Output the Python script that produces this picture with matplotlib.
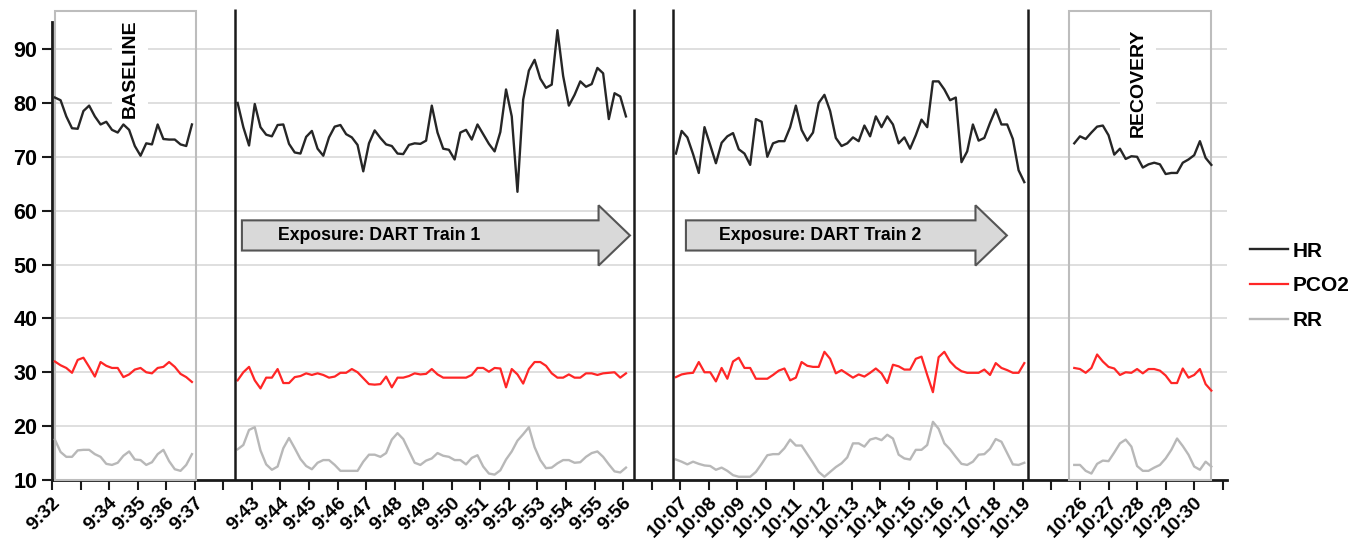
import matplotlib.pyplot as plt
import matplotlib.patches as mpatches
import numpy as np

plt.rcParams['font.family'] = ['Liberation Sans', 'DejaVu Sans']
plt.rcParams['font.weight'] = 'bold'

# x axis: one tick per minute slot, some slots unlabeled
tick_labels = ['9:32', '', '9:34', '9:35', '9:36', '9:37', '',
               '9:43', '9:44', '9:45', '9:46', '9:47', '9:48', '9:49', '9:50',
               '9:51', '9:52', '9:53', '9:54', '9:55', '9:56', '',
               '10:07', '10:08', '10:09', '10:10', '10:11', '10:12', '10:13',
               '10:14', '10:15', '10:16', '10:17', '10:18', '10:19', '',
               '10:26', '10:27', '10:28', '10:29', '10:30', '']

# start of each recorded block (in tick units) and sample spacing
seg_start = [0.1, 6.5, 21.85, 35.8]
step = 0.2

hr_base = [81, 80.5, 77.5, 75.3, 75.2, 78.5, 79.5, 77.5, 76, 76.5, 75, 74.5, 76,
           75, 72, 70.2, 72.5, 72.3, 76, 73.3, 73.2, 73.2, 72.3, 72, 76]
pco2_base = [32, 31.3, 30.8, 29.9, 32.3, 32.7, 31, 29.2, 31.9, 31.2, 30.8, 30.8,
             29.1, 29.6, 30.5, 30.8, 30, 29.8, 30.8, 31, 31.9, 31, 29.7, 29.1, 28.2]
rr_base = [17.5, 15.2, 14.3, 14.3, 15.5, 15.6, 15.6, 14.8, 14.3, 13, 12.8, 13.2,
           14.5, 15.3, 13.8, 13.7, 12.8, 13.3, 14.8, 15.6, 13.5, 12, 11.7, 12.8, 14.8]

hr_train1 = [80, 75.5, 72.1, 79.8, 75.5, 74.1, 73.8, 75.9, 76, 72.4,
             70.8, 70.6, 73.7, 74.8, 71.5, 70.2, 73.6, 75.6, 75.9, 74.2,
             73.6, 72.2, 67.3, 72.5, 74.9, 73.5, 72.3, 72, 70.6, 70.5,
             72.2, 72.5, 72.4, 73, 79.5, 74.5, 71.5, 71.3, 69.5, 74.5,
             75, 73.2, 76, 74.2, 72.4, 71, 74.6, 82.5, 77.5, 63.5,
             80.6, 86, 88, 84.5, 82.8, 83.4, 93.5, 85, 79.5, 81.5,
             84, 83, 83.5, 86.5, 85.5, 77, 81.8, 81.2, 77.5]
pco2_train1 = [28.5, 30, 31, 28.5, 27, 29, 29, 30.6, 28, 28,
               29.1, 29.3, 29.8, 29.5, 29.8, 29.5, 29, 29.2, 29.9, 29.9,
               30.6, 30, 28.9, 27.8, 27.7, 27.8, 29.2, 27.2, 29, 29,
               29.3, 29.8, 29.6, 29.7, 30.6, 29.6, 29, 29, 29, 29,
               29, 29.5, 30.8, 30.8, 30.1, 30.8, 30.7, 27.2, 30.6, 29.6,
               27.9, 30.6, 31.9, 31.9, 31.2, 29.8, 29, 29, 29.6, 29,
               29, 29.8, 29.8, 29.5, 29.8, 29.9, 30, 29, 29.8]
rr_train1 = [15.7, 16.5, 19.3, 19.8, 15.5, 12.9, 11.9, 12.5, 15.9, 17.8,
             15.9, 13.9, 12.6, 12, 13.2, 13.7, 13.7, 12.8, 11.7, 11.7,
             11.7, 11.7, 13.4, 14.7, 14.7, 14.3, 15, 17.5, 18.7, 17.6,
             15.4, 13.2, 12.8, 13.6, 14, 15, 14.5, 14.3, 13.7, 13.7,
             12.9, 14.1, 14.6, 12.5, 11.2, 11, 11.8, 13.8, 15.3, 17.3,
             18.5, 19.8, 16.1, 13.7, 12.2, 12.3, 13.1, 13.7, 13.7, 13.2,
             13.3, 14.3, 15, 15.3, 14.3, 12.9, 11.6, 11.4, 12.3]

hr_train2 = [70.6, 74.8, 73.6, 70.5, 67, 75.5, 72.2, 68.8, 72.6, 73.8,
             74.4, 71.4, 70.6, 68.5, 77, 76.5, 70, 72.5, 72.9, 72.9,
             75.5, 79.5, 75, 73, 74.5, 80, 81.5, 78.5, 73.5, 72,
             72.5, 73.6, 72.9, 75.8, 73.8, 77.5, 75.5, 77.5, 76, 72.5,
             73.6, 71.5, 74, 76.9, 75.5, 84, 84, 82.5, 80.5, 81,
             69, 71, 76, 73, 73.5, 76.3, 78.8, 76, 76, 73.3,
             67.5, 65.3]
pco2_train2 = [29.1, 29.6, 29.8, 29.9, 31.9, 30, 30, 28.3, 30.8, 28.8,
               32, 32.7, 30.8, 30.8, 28.8, 28.8, 28.8, 29.5, 30.3, 30.7,
               28.5, 29, 31.9, 31.2, 31, 31, 33.8, 32.5, 29.8, 30.4,
               29.7, 29, 29.6, 29.2, 29.9, 30.7, 29.8, 28, 31.4, 31.1,
               30.5, 30.5, 32.5, 32.9, 29.5, 26.3, 32.8, 33.8, 32, 30.9,
               30.2, 29.9, 29.9, 29.9, 30.5, 29.5, 31.7, 30.8, 30.4, 29.9,
               29.9, 31.7]
rr_train2 = [13.8, 13.4, 12.9, 13.4, 13, 12.7, 12.6, 11.9, 12.3, 11.7,
             10.9, 10.6, 10.6, 10.6, 11.5, 13, 14.6, 14.8, 14.8, 15.9,
             17.5, 16.4, 16.4, 14.8, 13.2, 11.5, 10.6, 11.5, 12.4, 13.1,
             14.2, 16.8, 16.8, 16.2, 17.5, 17.8, 17.4, 18.4, 17.7, 14.7,
             14, 13.8, 15.6, 15.6, 16.5, 20.8, 19.5, 16.8, 15.7, 14.3,
             13, 12.8, 13.4, 14.7, 14.8, 15.8, 17.6, 17.1, 15, 12.9,
             12.8, 13.2]

hr_rec = [72.5, 73.8, 73.3, 74.5, 75.6, 75.8, 74, 70.4, 71.5, 69.6, 70.1, 70, 68,
          68.6, 68.9, 68.6, 66.8, 67, 67, 68.9, 69.5, 70.3, 72.9, 69.8, 68.5]
pco2_rec = [30.8, 30.6, 29.9, 30.8, 33.3, 32, 31, 30.7, 29.5, 30, 29.9, 30.6, 29.8,
            30.6, 30.6, 30.3, 29.4, 28, 28, 30.7, 29, 29.5, 30.6, 27.8, 26.6]
rr_rec = [12.8, 12.8, 11.7, 11.2, 13, 13.6, 13.5, 15.1, 16.8, 17.5, 16.2, 12.6, 11.7,
          11.7, 12.3, 12.8, 14, 15.6, 17.7, 16.3, 14.7, 12.5, 11.9, 13.4, 12.5]

hr = [hr_base, hr_train1, hr_train2, hr_rec]
pco2 = [pco2_base, pco2_train1, pco2_train2, pco2_rec]
rr = [rr_base, rr_train1, rr_train2, rr_rec]

fig = plt.figure(figsize=(13.69, 5.53), dpi=100)
ax = fig.add_axes([0.038, 0.132, 0.8583, 0.828])

for y in range(20, 100, 10):
    ax.axhline(y, color='#dcdcdc', lw=1.3, zorder=0)

series = [(hr, 'HR', '#262626', 1.7), (pco2, 'PCO2', '#ff2626', 1.6), (rr, 'RR', '#b8b8b8', 1.7)]
for blocks, name, col, lw in series:
    for i, vals in enumerate(blocks):
        x = seg_start[i] + step * np.arange(len(vals))
        ax.plot(x, vals, color=col, lw=lw, zorder=4, label=name if i == 0 else None)

# phase separators
for xv in [6.41, 20.38, 21.74, 34.17]:
    ax.vlines(xv, 10, 97.5, color='#1a1a1a', lw=1.8, zorder=5, clip_on=False)

# baseline / recovery boxes
for x0, x1 in [(0.105, 5.04), (35.61, 40.58)]:
    ax.add_patch(mpatches.Rectangle((x0, 10), x1 - x0, 87, fill=False, edgecolor='#bdbdbd',
                                    lw=1.5, zorder=3, clip_on=False))

ax.text(2.73, 86.3, 'BASELINE', rotation=90, ha='center', va='center', fontsize=14,
        fontweight='bold', zorder=2, bbox=dict(facecolor='white', edgecolor='none', pad=7))
ax.text(38.03, 83.7, 'RECOVERY', rotation=90, ha='center', va='center', fontsize=14,
        fontweight='bold', zorder=2, bbox=dict(facecolor='white', edgecolor='none', pad=7))


def arrow(x0, x1, label, tx):
    head = 1.1
    yc, bh, hh = 55.4, 2.8, 5.6
    pts = [(x0, yc - bh), (x1 - head, yc - bh), (x1 - head, yc - hh), (x1, yc),
           (x1 - head, yc + hh), (x1 - head, yc + bh), (x0, yc + bh)]
    ax.add_patch(mpatches.Polygon(pts, closed=True, facecolor='#d9d9d9', edgecolor='#555555',
                                  lw=1.5, zorder=3))
    ax.text(tx, yc, label, ha='center', va='center', fontsize=12.7, fontweight='bold', zorder=4)


arrow(6.65, 20.24, 'Exposure: DART Train 1', 11.45)
arrow(22.2, 33.44, 'Exposure: DART Train 2', 26.9)

ax.set_xlim(0, 41.15)
ax.set_ylim(10, 95)
ax.set_yticks(range(10, 100, 10))
ax.set_xticks(range(len(tick_labels)))
ax.set_xticklabels(tick_labels, rotation=45, ha='right', va='top', rotation_mode='anchor',
                   fontsize=14, fontweight='bold')
for lab in ax.get_yticklabels():
    lab.set_fontsize(15.5)
    lab.set_fontweight('bold')
ax.tick_params(axis='both', direction='out', length=7, width=1.5, color='#1a1a1a')
ax.tick_params(axis='x', pad=3)
for s in ['top', 'right']:
    ax.spines[s].set_visible(False)
for s in ['left', 'bottom']:
    ax.spines[s].set_linewidth(2)
    ax.spines[s].set_color('#1a1a1a')

leg = fig.legend(loc='center left', bbox_to_anchor=(0.913, 0.483), frameon=False,
                 fontsize=15, handlelength=1.85, handletextpad=0.2, labelspacing=0.75,
                 borderpad=0, borderaxespad=0)
for t in leg.get_texts():
    t.set_fontweight('bold')

fig.savefig('out.png', dpi=100)
